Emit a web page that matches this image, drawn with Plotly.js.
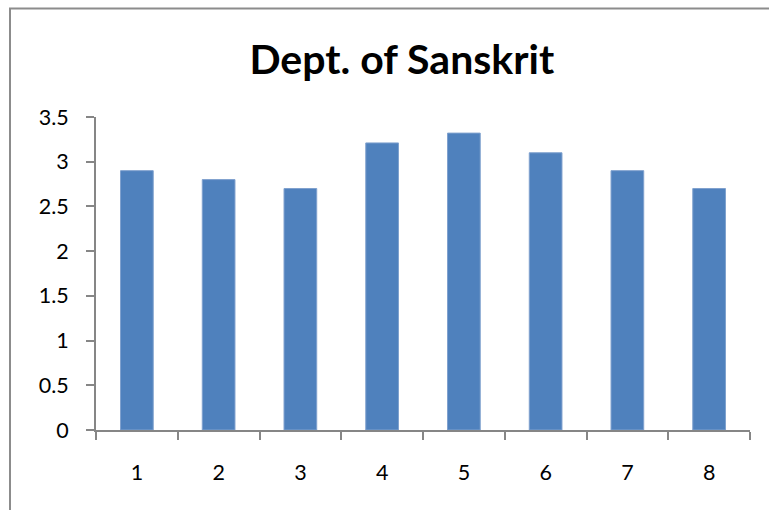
<!DOCTYPE html>
<html>
<head>
<meta charset="utf-8">
<script src="https://cdn.plot.ly/plotly-3.0.1.min.js"></script>
<style>
  html, body { margin: 0; padding: 0; background: #fff; }
  #chart { width: 769px; height: 510px; }
</style>
</head>
<body>
<div id="chart"></div>
<script>
const categories = ['1', '2', '3', '4', '5', '6', '7', '8'];
const values = [2.9, 2.8, 2.7, 3.21, 3.32, 3.1, 2.9, 2.7];
const yTickValues = [0, 0.5, 1, 1.5, 2, 2.5, 3, 3.5];
const yTickLabels = ['0', '0.5', '1', '1.5', '2', '2.5', '3', '3.5'];
const chartTitle = 'Dept. of Sanskrit';

const font = 'Lato, "Open Sans", "Liberation Sans", sans-serif';
const axisGray = '#868686';

const trace = {
  type: 'bar',
  x: categories,
  y: values,
  marker: { color: '#4F81BD', line: { color: '#7FA1CE', width: 1 } },
  hoverinfo: 'x+y'
};

const layout = {
  width: 769,
  height: 510,
  margin: { l: 96, r: 19, t: 117, b: 80, pad: 0 },
  paper_bgcolor: '#ffffff',
  plot_bgcolor: '#ffffff',
  bargap: 0.6,
  showlegend: false,
  title: {
    text: '<b>' + chartTitle + '</b>',
    font: { family: font, size: 41, color: '#000000' },
    x: 0.5225, xanchor: 'center', xref: 'container',
    y: 1 - 60 / 510, yanchor: 'middle', yref: 'container'
  },
  xaxis: {
    type: 'category',
    showline: true, linecolor: axisGray, linewidth: 2,
    ticks: 'outside', tickson: 'boundaries', ticklen: 8, tickwidth: 2, tickcolor: axisGray,
    tickfont: { family: font, size: 21.5, color: '#000000' },
    ticklabelstandoff: 22,
    showgrid: false, zeroline: false, fixedrange: true
  },
  yaxis: {
    range: [0, 3.5],
    tickvals: yTickValues, ticktext: yTickLabels,
    showline: true, linecolor: axisGray, linewidth: 2,
    ticks: 'outside', ticklen: 8, tickwidth: 2, tickcolor: axisGray,
    tickfont: { family: font, size: 21.5, color: '#000000' },
    ticklabelstandoff: 13,
    showgrid: false, zeroline: false, fixedrange: true
  },
  shapes: [{
    type: 'rect', xref: 'paper', yref: 'paper',
    x0: (10 - 96) / 654, x1: 1.2,
    y0: -0.5, y1: (430 - 8.5) / 313,
    line: { color: '#8c8c8c', width: 2 },
    fillcolor: 'rgba(0,0,0,0)',
    layer: 'below'
  }]
};

Plotly.newPlot('chart', [trace], layout, { staticPlot: true, displayModeBar: false });
</script>
</body>
</html>
